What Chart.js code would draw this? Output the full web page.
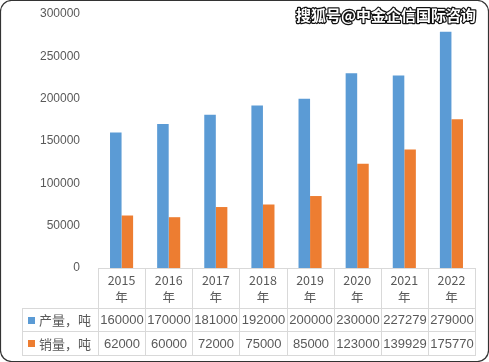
<!DOCTYPE html>
<html><head><meta charset="utf-8">
<script src="https://cdn.jsdelivr.net/npm/chart.js@4/dist/chart.umd.min.js"></script>
<style>
html,body{margin:0;padding:0;background:#fff;}
canvas{display:block}
</style></head><body>
<canvas id="c" width="489" height="362"></canvas>
<script>
const categories = ['2015','2016','2017','2018','2019','2020','2021','2022'];
const yearSuffix = '年';
const productionLabel = '产量，吨';
const salesLabel = '销量，吨';
const production = [160000,170000,181000,192000,200000,230000,227279,279000];
const sales = [62000,60000,72000,75000,85000,123000,139929,175770];
const yMin = 0, yMax = 300000, yStep = 50000;
const watermark = '搜狐号@中金企信国际咨询';

const BLUE = '#5B9BD5', ORANGE = '#ED7D31', TXT = '#595959', LINE = '#D9D9D9';
const FONT = "'Liberation Sans','Noto Sans CJK SC',sans-serif";
const CJK = "'Noto Sans CJK SC','Liberation Sans',sans-serif";

const tablePlugin = {
  id: 'tbl',
  afterDraw(chart) {
    const ctx = chart.ctx, x = chart.scales.x, ca = chart.chartArea;
    const n = categories.length;
    const step = x.getPixelForValue(1) - x.getPixelForValue(0);
    const edges = [];
    for (let i = 0; i <= n; i++) edges.push(Math.round(x.getPixelForValue(0) - step/2 + i*step));
    const top = Math.round(ca.bottom), hb = top + 40, r1 = hb + 23, r2 = r1 + 24;
    const leftCol = 22;
    ctx.save();
    ctx.strokeStyle = LINE; ctx.lineWidth = 1;
    ctx.beginPath();
    edges.forEach(e => { ctx.moveTo(e + 0.5, top); ctx.lineTo(e + 0.5, r2 + 0.5); });
    ctx.moveTo(leftCol + 0.5, hb); ctx.lineTo(leftCol + 0.5, r2 + 0.5);
    [hb, r1, r2].forEach(yy => { ctx.moveTo(leftCol, yy + 0.5); ctx.lineTo(edges[n] + 1, yy + 0.5); });
    ctx.stroke();
    const rows = [[productionLabel, BLUE, production, (hb + r1)/2], [salesLabel, ORANGE, sales, (r1 + r2)/2]];
    ctx.textBaseline = 'middle';
    rows.forEach(([lab, col, vals, cy]) => {
      ctx.fillStyle = col;
      ctx.fillRect(28, Math.round(cy) - 3, 7, 7);
      ctx.fillStyle = TXT;
      ctx.font = "13px " + CJK;
      ctx.textAlign = 'left';
      ctx.fillText(lab, 39, cy + 1);
      ctx.font = "13px " + FONT;
      ctx.textAlign = 'center';
      vals.forEach((v, i) => ctx.fillText(String(v), (edges[i] + edges[i+1]) / 2 + 0.5, cy + 1));
    });
    ctx.font = "bold 15px " + CJK;
    ctx.textAlign = 'right';
    ctx.lineJoin = 'round';
    ctx.strokeStyle = '#111'; ctx.lineWidth = 2.5;
    ctx.strokeText(watermark, 476, 15);
    ctx.fillStyle = '#fff';
    ctx.fillText(watermark, 476, 15);
    ctx.strokeStyle = '#333'; ctx.lineWidth = 1.2;
    ctx.beginPath();
    ctx.roundRect(0.5, 0.5, 488, 361, 11);
    ctx.stroke();
    ctx.restore();
  }
};

new Chart(document.getElementById('c'), {
  type: 'bar',
  data: {
    labels: categories.map(c => [c, yearSuffix]),
    datasets: [
      { label: productionLabel, data: production, backgroundColor: BLUE },
      { label: salesLabel, data: sales, backgroundColor: ORANGE }
    ]
  },
  options: {
    responsive: false,
    animation: false,
    devicePixelRatio: 1,
    layout: { padding: { left: 0, right: 14, top: 14, bottom: 54 } },
    plugins: { legend: { display: false }, tooltip: { enabled: false } },
    datasets: { bar: { categoryPercentage: 0.49, barPercentage: 1 } },
    scales: {
      x: {
        grid: { display: false, drawTicks: false },
        border: { display: true, color: LINE },
        ticks: { color: TXT, font: { family: CJK, size: 12.5, lineHeight: 1.35 }, padding: 4, maxRotation: 0, autoSkip: false },
        afterFit: s => { s.height = 40; }
      },
      y: {
        min: yMin, max: yMax,
        grid: { display: false, drawTicks: false },
        border: { display: false },
        ticks: { stepSize: yStep, color: TXT, font: { family: FONT, size: 12 }, padding: 18, callback: v => String(v) },
        afterFit: s => { s.width = 98; s.paddingTop = 0; s.paddingBottom = 0; }
      }
    }
  },
  plugins: [tablePlugin]
});
</script>
</body></html>
